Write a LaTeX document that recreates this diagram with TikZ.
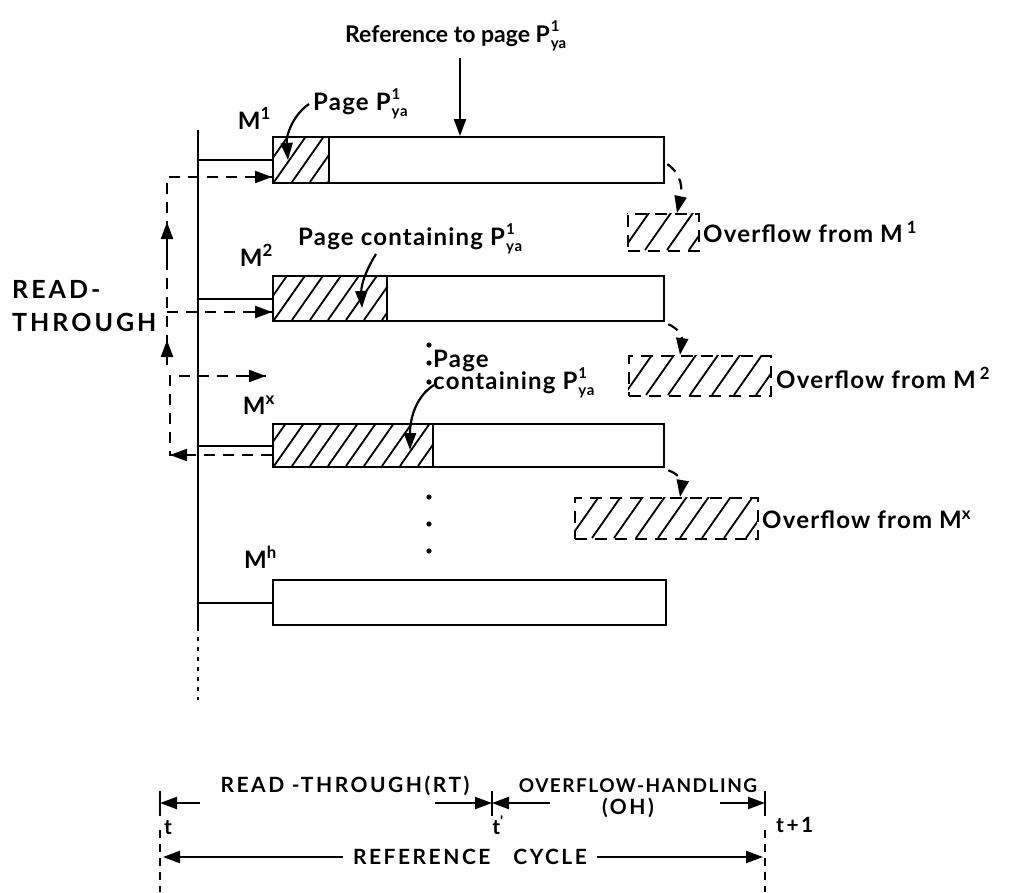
\documentclass[tikz,border=0pt]{standalone}
\usepackage{fontspec}
\setmainfont{Lato}
\newfontfamily\wideLato[LetterSpace=5]{Lato}
\newfontfamily\midLato[LetterSpace=8]{Lato}
\newfontfamily\vwideLato[LetterSpace=12]{Lato}
\usetikzlibrary{arrows.meta}
\newcommand\Pya{P\kern1pt\makebox[0pt][l]{\raisebox{0.85ex}{\fontsize{15}{15}\selectfont 1}}\raisebox{-0.55ex}{\fontsize{15}{15}\selectfont ya}}
\newcommand\hatchrect[5]{%
  \begin{scope}
    \clip (#1,#2) rectangle (#3,#4);
    \foreach \k in {0,#5,...,420}{\draw[hatchln] ({#1+\k-70},#4) -- ++(70,-100);}
  \end{scope}}
\begin{document}
\begin{tikzpicture}[x=1pt,y=-1pt,
  every node/.style={inner sep=0pt},
  lbl/.style={font=\wideLato\bfseries\fontsize{24}{26}\selectfont},
  toplbl/.style={font=\bfseries\fontsize{23}{25}\selectfont},
  capl/.style={font=\vwideLato\bfseries\fontsize{25}{27}\selectfont},
  small/.style={font=\midLato\bfseries\fontsize{19}{21}\selectfont},
  big/.style={font=\vwideLato\bfseries\fontsize{21}{23}\selectfont},
  box/.style={draw, line width=2.3pt, anchor=north west, minimum height=45pt},
  hatchln/.style={line width=1.8pt},
  ln/.style={line width=2.2pt},
  tip/.style={-{Triangle[length=17pt,width=12pt]}},
  dsh/.style={line width=2.2pt, dash pattern=on 11pt off 8pt},
  dotted1/.style={line width=1.6pt, dash pattern=on 4pt off 6pt},
]
\useasboundingbox (0,0) rectangle (1020,892);

% ---------- memory boxes ----------
\node[box, minimum width=391pt, minimum height=46pt] (m1) at (272,136) {};
\hatchrect{272}{136}{328}{182}{18}
\node[box, minimum width=56pt, minimum height=46pt] (p1) at (272,136) {};

\node[box, minimum width=391pt] (m2) at (272,275) {};
\hatchrect{272}{275}{386}{320}{18}
\node[box, minimum width=114pt] (p2) at (272,275) {};

\node[box, minimum width=391pt, minimum height=43pt] (mx) at (272,423) {};
\hatchrect{272}{423}{432}{466}{18}
\node[box, minimum width=160pt, minimum height=43pt] (px) at (272,423) {};

\node[box, minimum width=393pt] (mh) at (272,579) {};

% ---------- labels M ----------
\node[lbl, anchor=base east] (lm1) at (271,129) {M\textsuperscript{1}};
\node[lbl, anchor=base east] (lm2) at (273,266) {M\textsuperscript{2}};
\node[lbl, anchor=base east] (lmx) at (275,414) {M\textsuperscript{x}};
\node[lbl, anchor=base east] (lmh) at (277,568) {M\textsuperscript{h}};

% ---------- bus ----------
\coordinate (bt) at (198,130);
\coordinate (bb) at (198,627);
\coordinate (be) at (198,700);
\draw[ln] (bt) -- (bb);
\draw[dotted1] (bb) -- (be);
\foreach \m in {m1,m2,mx,mh}{\draw[ln] (\m.west -| bt) -- (\m.west);}

% ---------- read-through dashed paths ----------
\coordinate (d1) at (167,177);
\coordinate (d2) at (167,365);
\coordinate (d3) at (167,312);
\draw[dsh] (d2) -- (d1) -- (272,177);
\draw[tip, ln] (250,177) -- (p1.west |- d1);
\draw[tip, ln] (167,262) -- (167,222);
\draw[tip, ln] (167,362) -- (167,340);
\draw[dsh] (d3) -- (272,312);
\draw[tip, ln] (250,312) -- (p2.west |- d3);
\coordinate (e1) at (170,455);
\coordinate (e2) at (170,376);
\coordinate (e3) at (266,376);
\draw[dsh] (px.west |- e1) -- (e1) -- (e2) -- (e3);
\draw[tip, ln] (195,455) -- (e1);
\draw[tip, ln] (245,376) -- (e3);

\node[capl, anchor=base west] (rd1) at (12,298) {READ-};
\node[capl, anchor=base west] (rd2) at (12,331) {THROUGH};

% ---------- reference arrow ----------
\node[toplbl, anchor=base west] (reft) at (345,42) {Reference to page \Pya};
\coordinate (r0) at (460,58);
\draw[tip, ln] (r0) -- (m1.north -| r0);

% ---------- page labels ----------
\node[lbl, anchor=base west] (pg1) at (313,110) {Page \Pya};
\draw[tip, ln] (309,104) .. controls (293,115) and (286,135) .. (288,160);
\node[lbl, anchor=base west] (pg2) at (298,245) {Page containing \Pya};
\draw[tip, ln] (376,254) .. controls (366,270) and (361,285) .. (362,308);
\node[lbl, anchor=base west] (pg3a) at (433,367) {Page};
\node[lbl, anchor=base west] (pg3b) at (433,389) {containing \Pya};
\draw[tip, ln] (434,385) .. controls (418,395) and (410,415) .. (410,450);

% ellipsis dots
\foreach \y in {345,363,382,497,524,551}{\fill (429,\y) circle (2.6pt);}

% ---------- overflow boxes ----------
\hatchrect{627}{213}{698}{250}{22}
\node[box, dashed, dash pattern=on 12pt off 8pt, minimum width=71pt, minimum height=37pt] (o1) at (627,213) {};
\node[lbl, anchor=west] (ot1) at (703,232) {Overflow from M\,\textsuperscript{1}};
\hatchrect{628}{355}{770}{395}{22}
\node[box, dashed, dash pattern=on 12pt off 8pt, minimum width=142pt, minimum height=40pt] (o2) at (628,355) {};
\node[lbl, anchor=west] (ot2) at (776,378) {Overflow from M\,\textsuperscript{2}};
\hatchrect{574}{497}{757}{538}{22}
\node[box, dashed, dash pattern=on 12pt off 8pt, minimum width=183pt, minimum height=41pt] (ox) at (574,497) {};
\node[lbl, anchor=west] (otx) at (762,520) {Overflow from M\textsuperscript{x}};

\draw[dsh, tip] (m1.east) ++(2,4) .. controls (683,175) and (682,190) .. (o1.north -| 677,0);
\draw[dsh, tip] (m2.south east) ++(3,2) .. controls (682,330) and (682,340) .. (o2.north -| 680,0);
\draw[dsh, tip] (mx.south east) ++(3,2) .. controls (682,475) and (682,485) .. (ox.north -| 680,0);

% ---------- timeline ----------
\coordinate (tl) at (160,803);
\coordinate (tm) at (492,803);
\coordinate (tr) at (765,803);
\foreach \c in {tl,tm,tr}{\draw[ln] ([yshift=-13pt]\c) -- ([yshift=12pt]\c);}
\draw[line width=2.4pt, dash pattern=on 8pt off 6pt] (160,830) -- (160,892);
\draw[line width=2.4pt, dash pattern=on 8pt off 6pt] (765,830) -- (765,892);
\draw[tip, ln] (200,803) -- (tl);
\draw[tip, ln] (435,803) -- (tm);
\draw[tip, ln] (550,803) -- (tm);
\draw[tip, ln] (720,803) -- (tr);
\node[big, anchor=base] (rt) at (345,792) {READ -THROUGH(RT)};
\node[small, anchor=base] (oh1) at (638,792) {OVERFLOW-HANDLING};
\node[big, anchor=base] (oh2) at (628,814) {(OH)};
\node[big, anchor=base] (t0) at (168,834) {t};
\node[big, anchor=base] (t1) at (498,834) {t\textsuperscript{'}};
\node[big, anchor=base west] (t2) at (776,832) {t+1};
\node[big] (rc) at (470,857) {REFERENCE \ \ CYCLE};
\draw[tip, ln] (rc.west) ++(-10,0) -- (163,857);
\draw[tip, ln] (rc.east) ++(10,0) -- (763,857);
\end{tikzpicture}
\end{document}
